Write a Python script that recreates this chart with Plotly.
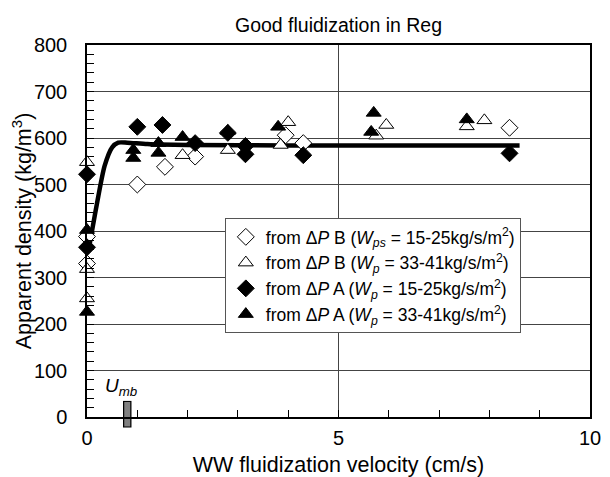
import plotly.graph_objects as go

# ---- data ----
b_wps_x = [0, 0, 1.0, 1.55, 2.15, 3.95, 4.3, 8.4]
b_wps_y = [330, 388, 500, 538, 560, 606, 589, 622]

b_wp_x = [0, 0, 0, 1.9, 2.8, 3.85, 4.0, 5.75, 5.95, 7.55, 7.9]
b_wp_y = [548, 318, 255, 563, 574, 585, 634, 605, 628, 625, 638]

a_wp15_x = [0, 0, 1.0, 1.5, 2.15, 2.8, 3.15, 3.15, 4.3, 8.4]
a_wp15_y = [522, 365, 624, 628, 589, 611, 583, 565, 563, 567]

a_wp33_x = [0, 0, 0.92, 0.92, 1.42, 1.42, 1.9, 2.8, 3.8, 5.65, 5.7, 7.55]
a_wp33_y = [226, 402, 574, 557, 589, 568, 602, 615, 624, 613, 654, 640]

fit_x = [0.05, 0.2, 0.35, 0.5, 0.62, 0.8, 1.2, 2.0, 4.0, 6.0, 8.6]
fit_y = [370, 460, 540, 580, 590, 590, 587, 585, 584, 584, 584]

umb = 0.8
umb_mid = 6

names = [
    "from \u0394<i>P</i> B (<i>W<sub>ps</sub></i> = 15-25kg/s/m<sup>2</sup>)",
    "from \u0394<i>P</i> B (<i>W<sub>p</sub></i> = 33-41kg/s/m<sup>2</sup>)",
    "from \u0394<i>P</i> A (<i>W<sub>p</sub></i> = 15-25kg/s/m<sup>2</sup>)",
    "from \u0394<i>P</i> A (<i>W<sub>p</sub></i> = 33-41kg/s/m<sup>2</sup>)",
]

FONT = "Liberation Sans, Arial, sans-serif"

fig = go.Figure()

# Umb marker (grey bar with black outline), drawn as markers so it can cross the axis
fig.add_trace(go.Scatter(
    x=[umb], y=[umb_mid], mode="markers", cliponaxis=False, showlegend=False, hoverinfo="skip",
    marker=dict(symbol="line-ns", size=19, line=dict(color="black", width=8.5)),
))
fig.add_trace(go.Scatter(
    x=[umb], y=[umb_mid], mode="markers", cliponaxis=False, showlegend=False, hoverinfo="skip",
    marker=dict(symbol="line-ns", size=17.5, line=dict(color="#808080", width=6)),
))

# fitted curve
fig.add_trace(go.Scatter(
    x=fit_x, y=fit_y, mode="lines", line=dict(color="black", width=4.5, shape="spline", smoothing=0.7),
    showlegend=False, hoverinfo="skip",
))

ms_d = 13
ms_t = 13
series = [
    (b_wps_x, b_wps_y, "diamond", True, ms_d),
    (b_wp_x, b_wp_y, "triangle-up", True, ms_t),
    (a_wp15_x, a_wp15_y, "diamond", False, ms_d),
    (a_wp33_x, a_wp33_y, "triangle-up", False, ms_t),
]
for (xs, ys, sym, hollow, ms), nm in zip(series, names):
    marker = dict(symbol=sym, size=ms, color="white" if hollow else "black",
                  line=dict(color="black", width=1))
    fig.add_trace(go.Scatter(x=xs, y=ys, mode="markers", marker=marker, name=nm, cliponaxis=False))

fig.add_annotation(x=umb, y=32, yshift=1, xshift=-6, text="<i>U<sub>mb</sub></i>", showarrow=False,
                   xanchor="center", yanchor="bottom",
                   font=dict(family=FONT, size=19, color="black"))

# the page adds an 8px body margin, so the figure is sized to fit the 610x477 window
fig.update_layout(
    width=602, height=469,
    margin=dict(l=79, r=20, t=37, b=60),
    paper_bgcolor="white", plot_bgcolor="white",
    font=dict(family=FONT, size=18, color="black"),
    title=dict(text="Good fluidization in Reg", x=0.5, xref="paper", xanchor="center",
               y=0.964, yanchor="middle", font=dict(family=FONT, size=19.5, color="black")),
    legend=dict(x=0.274, y=0.535, xanchor="left", yanchor="top", bgcolor="white",
                bordercolor="#555", borderwidth=1, font=dict(family=FONT, size=17.5, color="black"),
                itemwidth=30, tracegroupgap=0),
)

fig.update_xaxes(
    range=[0, 10], tickvals=[0, 5, 10], ticks="inside", ticklen=7, tickcolor="black",
    showline=True, linecolor="black", linewidth=1.5, mirror=True,
    showgrid=True, gridcolor="#444", gridwidth=1, zeroline=False, automargin=False,
    tickfont=dict(family=FONT, size=20, color="black"), ticklabelstandoff=2,
    minor=dict(dtick=1, ticks="inside", ticklen=7, tickcolor="black", showgrid=False),
    title=dict(text="WW fluidization velocity (cm/s)", font=dict(family=FONT, size=21.5), standoff=10),
)
fig.update_yaxes(
    range=[0, 800], dtick=100, ticks="inside", ticklen=7, tickcolor="black",
    showline=True, linecolor="black", linewidth=1.5, mirror=True,
    showgrid=True, gridcolor="#444", gridwidth=1, zeroline=False, automargin=False,
    tickfont=dict(family=FONT, size=20, color="black"), ticklabelstandoff=14,
    minor=dict(dtick=20, ticks="inside", ticklen=7, tickcolor="black", showgrid=False),
    title=dict(text="Apparent density (kg/m<sup>3</sup>)", font=dict(family=FONT, size=21.5), standoff=2),
)

fig.write_html("out.html")
